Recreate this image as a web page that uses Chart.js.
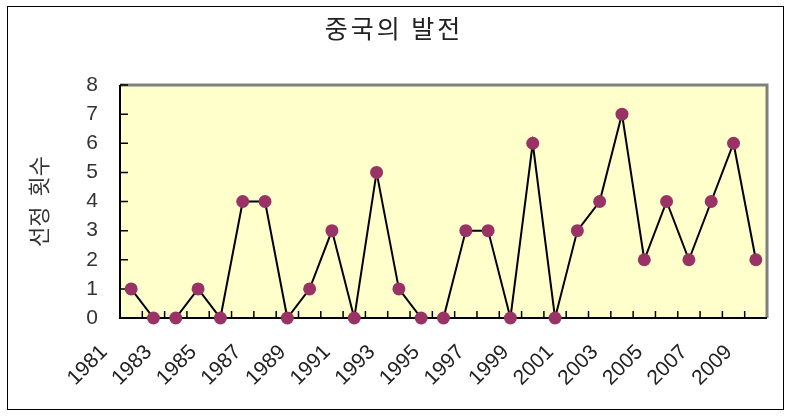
<!DOCTYPE html>
<html>
<head>
<meta charset="utf-8">
<script src="https://cdn.jsdelivr.net/npm/chart.js@4"></script>
<style>
body { margin: 0; background: #fff; }
#frame { position: absolute; left: 7px; top: 6px; width: 775px; height: 402px; border: 1.5px solid #000; }
#wrap { position: absolute; left: 0; top: 0; width: 793px; height: 417px; }
#title { position: absolute; left: 294px; width: 200px; top: 15px; text-align: center;
    font: 25px/1 'Noto Sans CJK KR'; letter-spacing: 3px; color: #222; }
</style>
</head>
<body>
<div id="frame"></div>
<div id="wrap"><canvas id="myChart"></canvas></div>
<div id="title">중국의 발전</div>
<script>
// 연도별 선정 횟수
const years = [1981, 1982, 1983, 1984, 1985, 1986, 1987, 1988, 1989, 1990,
    1991, 1992, 1993, 1994, 1995, 1996, 1997, 1998, 1999, 2000,
    2001, 2002, 2003, 2004, 2005, 2006, 2007, 2008, 2009];
const counts = [1, 0, 0, 1, 0, 4, 4, 0, 1, 3,
    0, 5, 1, 0, 0, 3, 3, 0, 6, 0,
    3, 4, 7, 2, 4, 2, 4, 6, 2];
const shownYears = [1981, 1983, 1985, 1987, 1989, 1991, 1993, 1995,
    1997, 1999, 2001, 2003, 2005, 2007, 2009];
const yMin = 0;
const yMax = 8;

const ctx = document.getElementById('myChart');

// 배경, 테두리, 안쪽 눈금
const frame = {
    id: 'frame',
    beforeDatasetsDraw(chart) {
        const a = chart.chartArea;
        const c = chart.ctx;
        const x = chart.scales.x;
        const y = chart.scales.y;
        c.save();
        c.fillStyle = '#FFFFCC';
        c.fillRect(a.left, a.top, a.right - a.left, a.bottom - a.top);

        c.strokeStyle = '#808080';
        c.lineWidth = 3;
        c.beginPath();
        c.moveTo(a.left, a.top);
        c.lineTo(a.right, a.top);
        c.lineTo(a.right, a.bottom);
        c.stroke();

        c.strokeStyle = '#000';
        c.lineWidth = 2;
        c.beginPath();
        c.moveTo(a.left, a.top);
        c.lineTo(a.left, a.bottom);
        c.lineTo(a.right, a.bottom);
        c.stroke();

        c.lineWidth = 1.5;
        c.beginPath();
        y.ticks.forEach((t, i) => {
            const py = y.getPixelForTick(i);
            c.moveTo(a.left, py);
            c.lineTo(a.left + 8, py);
        });
        for (let i = 0; i < years.length - 1; i++) {
            const px = (x.getPixelForValue(i) + x.getPixelForValue(i + 1)) / 2;
            c.moveTo(px, a.bottom);
            c.lineTo(px, a.bottom - 7);
        }
        c.stroke();
        c.restore();
    }
};

let myChart = new Chart(ctx, {
    type: 'line',
    data: {
        labels: years,
        datasets: [{
            data: counts,
            borderColor: '#000',
            borderWidth: 2,
            pointBackgroundColor: '#993366',
            pointBorderWidth: 0,
            pointRadius: 6.5,
            tension: 0,
            clip: false
        }]
    },
    options: {
        responsive: true,
        maintainAspectRatio: false,
        animation: false,
        layout: { padding: { left: 0, right: 26, top: 85, bottom: 0 } },
        plugins: {
            legend: { display: false },
            tooltip: { enabled: false },
            title: { display: false }
        },
        scales: {
            x: {
                offset: true,
                grid: { display: false, drawTicks: false },
                border: { display: false },
                afterFit: (s) => { s.height = 99; s.paddingRight = 0; s.paddingLeft = 0; },
                ticks: {
                    autoSkip: false,
                    maxRotation: 45,
                    minRotation: 45,
                    padding: 22,
                    labelOffset: -27,
                    color: '#222',
                    font: { family: 'Liberation Sans', size: 21 },
                    callback: function (v, i) {
                        return shownYears.includes(years[i]) ? String(years[i]) : '';
                    }
                }
            },
            y: {
                min: yMin,
                max: yMax,
                grid: { display: false, drawTicks: false },
                border: { display: false },
                afterFit: (s) => { s.width = 120; },
                ticks: {
                    stepSize: 1,
                    padding: 22,
                    color: '#333',
                    font: { family: 'Liberation Sans', size: 21 }
                },
                title: {
                    display: true,
                    text: '선정  횟수',
                    color: '#333',
                    font: { family: 'Noto Sans CJK KR', size: 22 },
                    padding: { top: 25, bottom: 0 }
                }
            }
        }
    },
    plugins: [frame]
});
</script>
</body>
</html>
